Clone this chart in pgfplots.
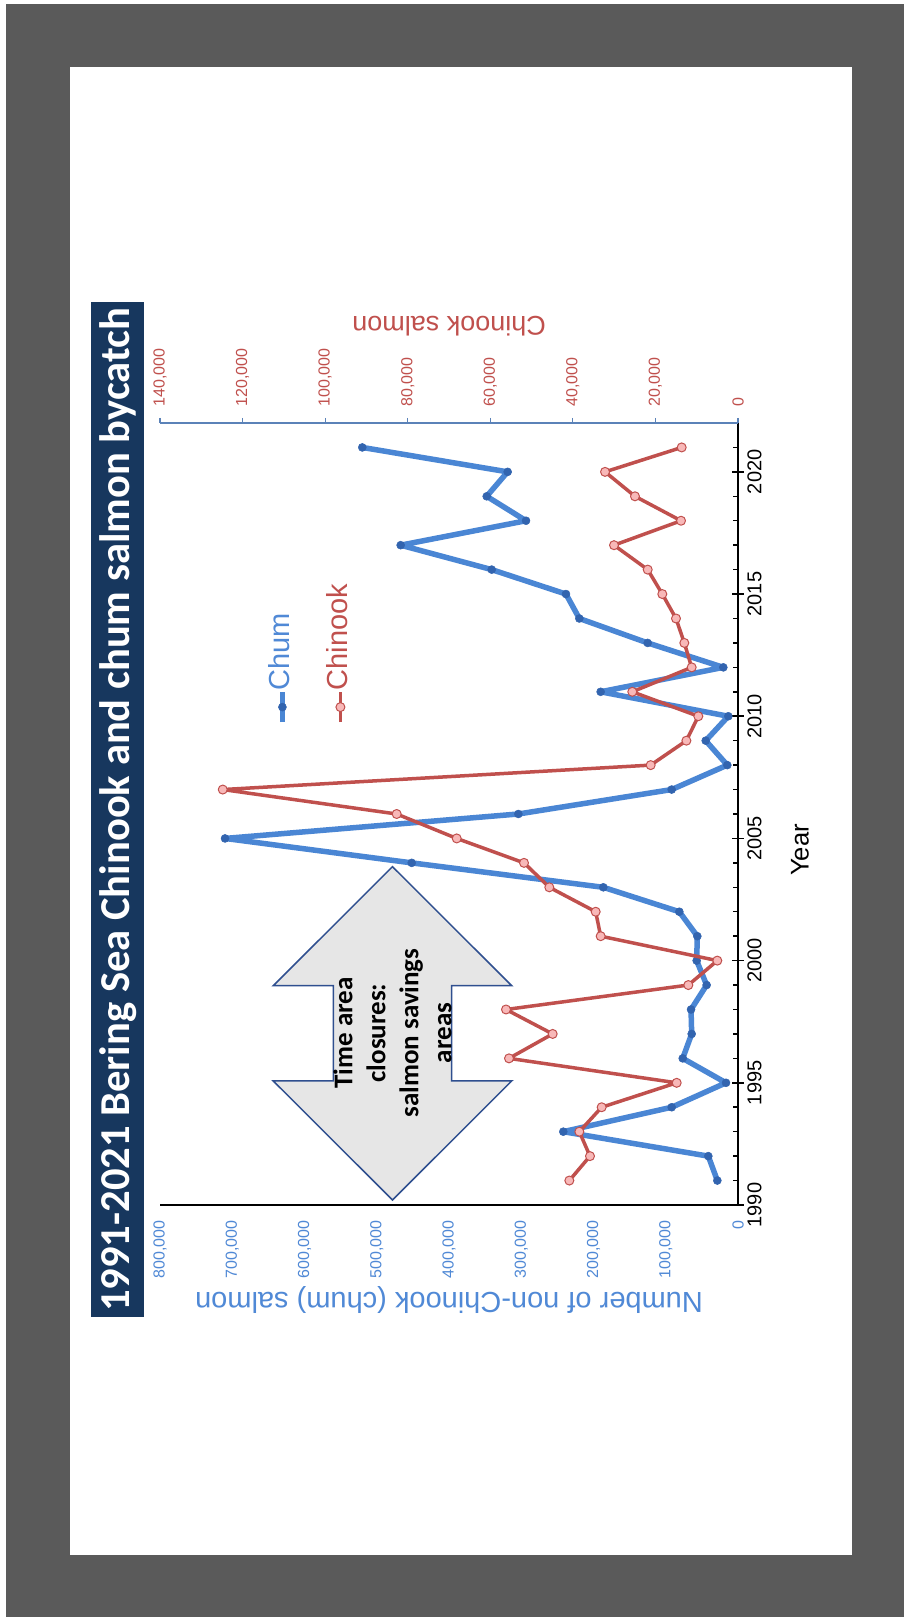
\documentclass[border=0pt]{standalone}
\usepackage{graphicx}
\usepackage{pgfplots}
\usepackage{pgfplotstable}
\pgfplotsset{compat=1.18}
\usepackage{fontspec}
\setmainfont{Liberation Sans}
\newfontfamily\calibri{Carlito}
\definecolor{chumblue}{RGB}{74,134,212}
\definecolor{chummark}{RGB}{50,100,175}
\definecolor{labelblue}{RGB}{80,137,214}
\definecolor{chinookred}{RGB}{192,80,77}
\definecolor{chinookfill}{RGB}{248,184,184}
\definecolor{axisblue}{RGB}{91,130,184}
\definecolor{navy}{RGB}{23,55,94}
\definecolor{bggray}{RGB}{90,90,90}
\definecolor{arrowfill}{RGB}{230,230,230}
\definecolor{arrowdraw}{RGB}{47,79,143}

\pgfplotstableread{
year chum chinook
1991 28600 40850
1992 41100 35850
1993 241800 38430
1994 91800 33020
1995 16600 14850
1996 76500 55460
1997 64100 44890
1998 65000 56190
1999 43400 12030
2000 57200 5010
2001 56300 33260
2002 81200 34470
2003 186400 45700
2004 451600 51830
2005 710000 68130
2006 304000 82670
2007 91800 124800
2008 14800 21150
2009 44700 12500
2010 13400 9610
2011 190100 25600
2012 20300 11220
2013 125000 13000
2014 219600 15020
2015 238100 18330
2016 340900 21870
2017 466900 30030
2018 293400 13800
2019 347800 24950
2020 318800 32200
2021 520000 13640
}\datatable

\pgfplotsset{
  chum style/.style={chumblue, line width=5.5pt, line join=round, mark=*, mark size=4pt, mark options={fill=chummark, draw=chummark, line width=0.5pt}},
  chinook style/.style={chinookred, line width=3.5pt, line join=round, mark=*, mark size=4.5pt, mark options={fill=chinookfill, draw=chinookred, line width=1pt}},
}

\begin{document}
\rotatebox{90}{%
\begin{tikzpicture}[x=1pt,y=1pt]
\fill[white] (0,0) rectangle (1617,904);
\fill[bggray] (0,0) rectangle (1613,898);
\fill[white] (62,52) rectangle (1550,834);
\fill[navy] (300,760) rectangle (1315,813);
\node[text=white, font=\calibri\bfseries\fontsize{42.6}{50}\selectfont] at (807,786) {1991-2021 Bering Sea Chinook and chum salmon bycatch};

\begin{axis}[
  at={(412pt,166pt)}, anchor=south west,
  width=782pt, height=578pt, scale only axis,
  xmin=1990, xmax=2022, ymin=0, ymax=800000,
  axis x line*=bottom, axis y line*=left,
  axis line style={black, line width=1.5pt, -},
  xtick={1990,1995,...,2020},
  xticklabels={1990,1995,2000,2005,2010,2015,2020},
  minor xtick={1991,1992,1993,1994,1996,1997,1998,1999,2001,2002,2003,2004,2006,2007,2008,2009,2011,2012,2013,2014,2016,2017,2018,2019,2021},
  xtick align=center,
  major tick length=12pt, minor tick length=5pt,
  x tick style={black, line width=1.5pt},
  minor x tick style={yshift=2.5pt},
  ytick={0,100000,200000,300000,400000,500000,600000,700000,800000},
  yticklabels={0,{100,000},{200,000},{300,000},{400,000},{500,000},{600,000},{700,000},{800,000}},
  y tick style={draw=none},
  scaled y ticks=false,
  xticklabel style={font=\fontsize{20}{24}\selectfont},
  yticklabel style={font=\fontsize{16}{19}\selectfont, text=labelblue, xshift=-12pt},
  xlabel={Year},
  xlabel style={font=\fontsize{25.6}{30}\selectfont, at={(axis description cs:0.454,-0.1073)}, anchor=center},
  ylabel={Number of non-Chinook (chum) salmon},
  ylabel style={font=\fontsize{29}{34}\selectfont, text=labelblue, at={(axis description cs:-0.1215,0.5)}, anchor=center},
]
\addplot[chum style] table[x=year, y=chum] {\datatable};
\end{axis}

\begin{axis}[
  at={(412pt,166pt)}, anchor=south west,
  width=782pt, height=578pt, scale only axis,
  xmin=1990, xmax=2022, ymin=0, ymax=140000,
  axis x line=none, axis y line*=right,
  y axis line style={axisblue, line width=1.2pt, -},
  ytick={0,20000,40000,60000,80000,100000,120000,140000},
  yticklabels={0,{20,000},{40,000},{60,000},{80,000},{100,000},{120,000},{140,000}},
  ytick align=outside, major tick length=5pt,
  y tick style={axisblue, line width=1.2pt},
  scaled y ticks=false,
  yticklabel style={font=\fontsize{16}{19}\selectfont, text=chinookred, xshift=8pt},
  ylabel={Chinook salmon},
  ylabel style={font=\fontsize{27}{32}\selectfont, text=chinookred, at={(axis description cs:1.124,0.5)}, anchor=center},
  legend cell align=left,
  legend style={at={(axis description cs:0.6099,0.738)}, anchor=west, draw=none, fill=none,
    font=\fontsize{29}{34}\selectfont, row sep=29pt,
    nodes={inner sep=1pt, text height=21pt, text depth=6pt}},
  legend image code/.code={\draw[overlay, mark repeat=2,mark phase=2,#1] plot coordinates {(0pt,0pt) (15pt,0pt) (30pt,0pt)}; \path (0pt,0pt) (28pt,0pt);},
]
\addlegendimage{chum style}
\addlegendentry{\textcolor{labelblue}{Chum}}
\addplot[chinook style] table[x=year, y=chinook] {\datatable};
\addlegendentry{\textcolor{chinookred}{Chinook}}
\end{axis}

\draw[arrowdraw, fill=arrowfill, line width=1.5pt, line join=miter]
  (417,511.5) -- (536,630.7) -- (536,570.7) -- (631.3,570.7) -- (631.3,630.7) -- (750.3,511.5)
  -- (631.3,392.3) -- (631.3,452.3) -- (536,452.3) -- (536,392.3) -- cycle;
\node[align=center, font=\calibri\bfseries\fontsize{27}{33}\selectfont] at (584,511.5)
  {Time area\\closures:\\salmon savings\\areas};
\pgfresetboundingbox
\path[use as bounding box] (0,0) rectangle (1617,904);
\end{tikzpicture}}
\end{document}
